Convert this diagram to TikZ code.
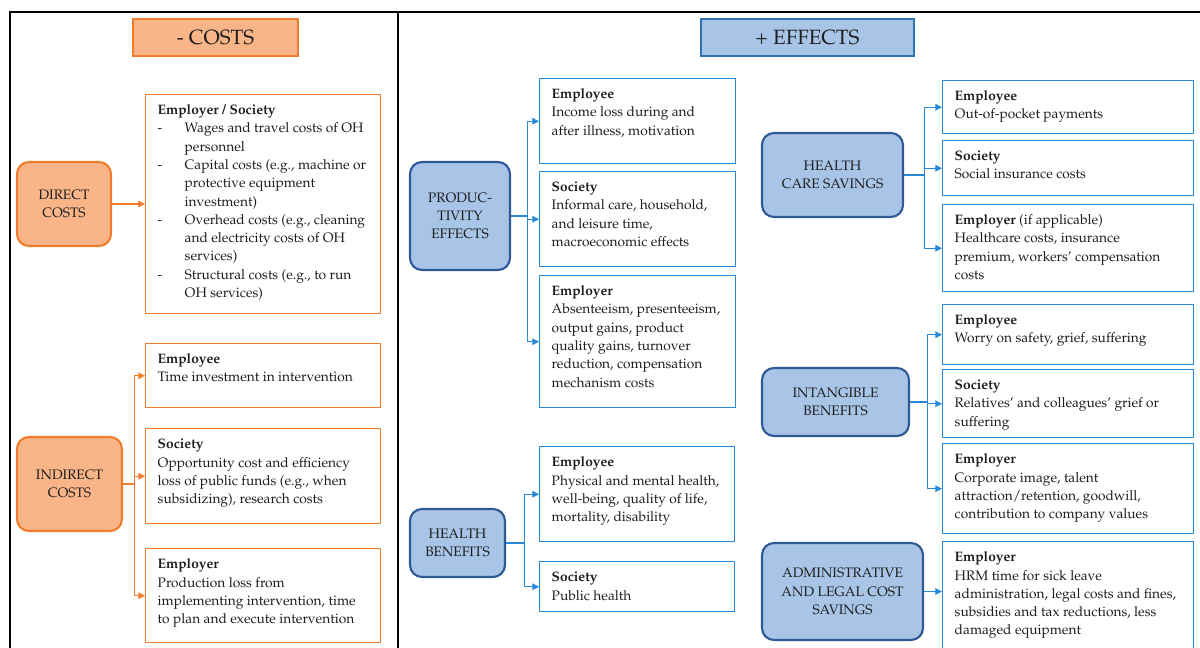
\documentclass[tikz,border=0pt]{standalone}
\usepackage[T1]{fontenc}
\usepackage{mathpazo}
\usepackage{tikz}
\usetikzlibrary{arrows.meta}
\usepackage{xcolor}

\definecolor{costFill}{RGB}{249,181,135}
\definecolor{costLine}{RGB}{240,125,45}
\definecolor{effFill}{RGB}{168,196,230}
\definecolor{effLine}{RGB}{46,90,150}
\definecolor{headLine}{RGB}{46,116,181}
\definecolor{detLine}{RGB}{40,136,216}
\definecolor{inkGray}{RGB}{30,30,30}

\newlength{\px}\setlength{\px}{0.75pt}
\newcommand{\bodyfont}{\fontsize{10.3}{13.7}\selectfont}
\newcommand{\cellbox}[3]{\parbox[b][#2\px][t]{#1\px}{\parindent=0pt\parskip=0pt\leftskip=12\px\rule{0pt}{20\px}#3\par}}
\newcommand{\dashitem}{\hangindent=27\px\hangafter=1\makebox[27\px][l]{-}}

\begin{document}
\begin{tikzpicture}[x=0.75pt,y=0.75pt,yscale=-1,xscale=1,
  every node/.style={text=inkGray},
  head/.style={line width=1pt, inner sep=0pt, font=\fontsize{15.5}{17}\selectfont},
  cat/.style={rounded corners=9pt, line width=1.6pt, align=center, inner sep=0pt, font=\bodyfont},
  costcat/.style={cat, fill=costFill, draw=costLine},
  effcat/.style={cat, fill=effFill, draw=effLine},
  costbox/.style={draw=costLine, line width=1.1pt, anchor=north west, inner sep=0pt, font=\bodyfont},
  effbox/.style={costbox, draw=detLine},
  costlink/.style={draw=costLine, line width=0.8pt, -{Triangle[length=5pt,width=5pt]}},
  efflink/.style={costlink, draw=detLine},
  frame/.style={line width=1.6pt}]
\useasboundingbox (0,0) rectangle (1200,648);

%Frame
\draw[frame] (10,648) -- (10,12) -- (1200,12) ;
\draw[frame] (398,12) -- (398,648) ;

%Headers
\node[head, fill=costFill, draw=costLine, minimum width=165\px, minimum height=37\px] (costHead) at (215.5,37.5) {- COSTS};
\node[head, fill=effFill, draw=headLine, minimum width=213\px, minimum height=37\px] (effHead) at (807.5,37.5) {+ EFFECTS};

%Costs: direct
\node[costcat, minimum width=94\px, minimum height=84\px] (dc) at (64,204) {DIRECT\\COSTS};
\node[costbox] (dcBox) at (145,94) {\cellbox{235}{219}{\textbf{Employer / Society}\par
  \dashitem Wages and travel costs of OH\\personnel\par
  \dashitem Capital costs (e.g., machine or\\protective equipment\\investment)\par
  \dashitem Overhead costs (e.g., cleaning\\and electricity costs of OH\\services)\par
  \dashitem Structural costs (e.g., to run\\OH services)}};

%Costs: indirect
\node[costcat, minimum width=105\px, minimum height=94\px] (ic) at (69.5,484) {INDIRECT\\COSTS};
\node[costbox] (icEmp) at (145,343) {\cellbox{235}{64}{\textbf{Employee}\\Time investment in intervention}};
\node[costbox] (icSoc) at (145,428) {\cellbox{235}{95}{\textbf{Society}\\Opportunity cost and efficiency\\loss of public funds (e.g., when\\subsidizing), research costs}};
\node[costbox] (icEmr) at (145,548) {\cellbox{235}{94}{\textbf{Employer}\\Production loss from\\implementing intervention, time\\to plan and execute intervention}};

%Effects: productivity
\node[effcat, minimum width=100\px, minimum height=108\px] (pe) at (460,216) {PRODUC-\\TIVITY\\EFFECTS};
\node[effbox] (peEmp) at (539,78) {\cellbox{196}{85}{\textbf{Employee}\\Income loss during and\\after illness, motivation}};
\node[effbox] (peSoc) at (539,171) {\cellbox{196}{95}{\textbf{Society}\\Informal care, household,\\and leisure time,\\macroeconomic effects}};
\node[effbox] (peEmr) at (539,275) {\cellbox{196}{132}{\textbf{Employer}\\Absenteeism, presenteeism,\\output gains, product\\quality gains, turnover\\reduction, compensation\\mechanism costs}};

%Effects: health benefits
\node[effcat, minimum width=95\px, minimum height=68\px] (hb) at (457.5,543) {HEALTH\\BENEFITS};
\node[effbox] (hbEmp) at (539,446) {\cellbox{195}{95}{\textbf{Employee}\\Physical and mental health,\\well-being, quality of life,\\mortality, disability}};
\node[effbox] (hbSoc) at (539,561) {\cellbox{195}{50}{\textbf{Society}\\Public health}};

%Effects: health care savings
\node[effcat, minimum width=141\px, minimum height=84\px] (hc) at (832.5,175) {HEALTH\\CARE SAVINGS};
\node[effbox] (hcEmp) at (942,80) {\cellbox{251}{53}{\textbf{Employee}\\Out-of-pocket payments}};
\node[effbox] (hcSoc) at (942,140) {\cellbox{251}{55}{\textbf{Society}\\Social insurance costs}};
\node[effbox] (hcEmr) at (942,204) {\cellbox{251}{87}{\textbf{Employer} (if applicable)\\Healthcare costs, insurance\\premium, workers' compensation\\costs}};

%Effects: intangible benefits
\node[effcat, minimum width=147\px, minimum height=68\px] (ib) at (835.5,402) {INTANGIBLE\\BENEFITS};
\node[effbox] (ibEmp) at (942,304) {\cellbox{251}{60}{\textbf{Employee}\\Worry on safety, grief, suffering}};
\node[effbox] (ibSoc) at (942,369) {\cellbox{251}{68}{\textbf{Society}\\Relatives' and colleagues' grief or\\suffering}};
\node[effbox] (ibEmr) at (942,443) {\cellbox{251}{90}{\textbf{Employer}\\Corporate image, talent\\attraction/retention, goodwill,\\contribution to company values}};

%Effects: administrative and legal
\node[effcat, minimum width=161\px, minimum height=97\px] (al) at (842.5,591.5) {ADMINISTRATIVE\\AND LEGAL COST\\SAVINGS};
\node[effbox] (alEmr) at (942,541) {\cellbox{251}{114}{\textbf{Employer}\\HRM time for sick leave\\administration, legal costs and fines,\\subsidies and tax reductions, less\\damaged equipment}};

%Connectors
\draw[costlink] (dc.east) -- (dc.east -| dcBox.west) ;
\draw[costlink] (ic.east) -- ++(11,0) |- (icEmp.west) ;
\draw[costlink] (ic.east) -- ++(11,0) |- (icSoc.west) ;
\draw[costlink] (ic.east) -- ++(11,0) |- (icEmr.west) ;
\draw[efflink] (pe.east) -- ++(16,0) |- (peEmp.west) ;
\draw[efflink] (pe.east) -- ++(16,0) |- (peSoc.west) ;
\draw[efflink] (pe.east) -- ++(16,0) |- (peEmr.west) ;
\draw[efflink] (hb.east) -- ++(18,0) |- (hbEmp.west) ;
\draw[efflink] (hb.east) -- ++(18,0) |- (hbSoc.west) ;
\draw[efflink] (hc.east) -- ++(20,0) |- (hcEmp.west) ;
\draw[efflink] (hc.east) -- ++(20,0) |- (hcSoc.west) ;
\draw[efflink] (hc.east) -- ++(20,0) |- (hcEmr.west) ;
\draw[efflink] (ib.east) -- ++(17,0) |- (ibEmp.west) ;
\draw[efflink] (ib.east) -- ++(17,0) |- (ibSoc.west) ;
\draw[efflink] (ib.east) -- ++(17,0) |- (ibEmr.west) ;
\draw[efflink] (al.east) -- (al.east -| alEmr.west) ;

\end{tikzpicture}
\end{document}
